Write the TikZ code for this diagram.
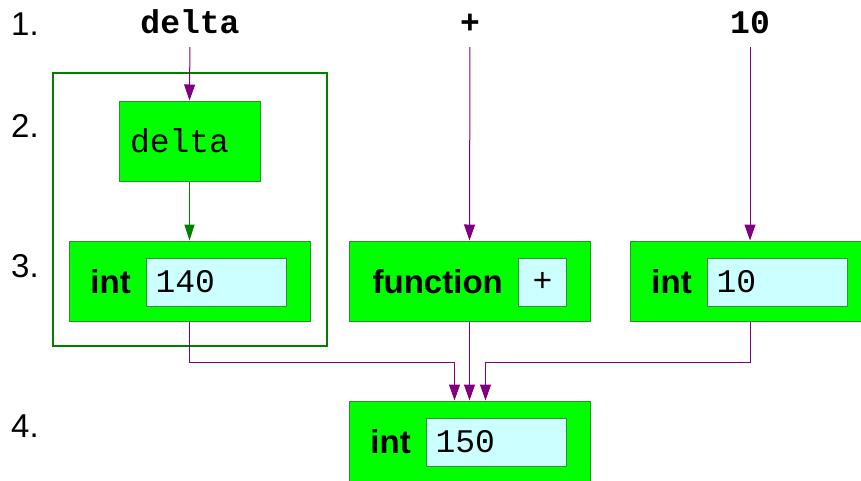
\documentclass[tikz,border=0pt]{standalone}
\usepackage{fontspec}
\setmainfont{Liberation Sans}
\setsansfont{Liberation Sans}
\setmonofont{Liberation Mono}
\usetikzlibrary{positioning, arrows.meta}
\definecolor{lime}{HTML}{00FF00}
\definecolor{frame}{HTML}{008000}
\definecolor{edge}{HTML}{1F9A1F}
\definecolor{slotfill}{HTML}{CCFFFF}
\definecolor{wire}{HTML}{800080}
\newcommand{\bigtype}{\fontsize{33}{40}\selectfont}

\begin{document}
\begin{tikzpicture}[x=1pt, y=-1pt,
      valbox/.style={draw=edge, fill=lime, line width=1pt,
                     minimum width=241pt, minimum height=80pt, inner sep=0pt},
      slotbox/.style={draw=edge!80!gray, fill=slotfill, line width=1pt, minimum height=48pt,
                      inner xsep=9pt, inner ysep=0pt, text width=122pt, align=left,
                      font=\bigtype\ttfamily},
      typename/.style={inner sep=0pt, font=\bigtype\sffamily\bfseries},
      source/.style={inner sep=0pt, anchor=base, text depth=0pt, font=\bigtype\ttfamily\bfseries},
      steplabel/.style={inner sep=0pt, anchor=base west, font=\bigtype\sffamily},
      flow/.style={-{Triangle[length=16pt, width=11pt]}, wire, line width=1pt},
      bind/.style={-{Triangle[length=16pt, width=10pt]}, frame, line width=1.2pt}]
    \useasboundingbox (0,0) rectangle (861,480);
    % environment frame
    \node[draw=frame, line width=2pt, minimum width=274pt, minimum height=273pt,
          inner sep=0pt] (envframe) at (190,209.5) {};
    % step numbers
    \node[steplabel] (s1) at (11,35)  {1.};
    \node[steplabel] (s2) at (11,137) {2.};
    \node[steplabel] (s3) at (11,277) {3.};
    \node[steplabel] (s4) at (11,437) {4.};
    % source tokens
    \node[source] (srcname) at (190,33) {delta};
    \node[source] (srcop)   at (470,33) {+};
    \node[source] (srcnum)  at (750,33) {10};
    % name lookup
    \node[draw=edge, fill=lime, line width=1pt, minimum width=141pt, minimum height=80pt,
          inner xsep=11pt, inner ysep=0pt, text width=119pt, align=left,
          font=\bigtype\ttfamily] (namebox) at (189.5,141) {delta};
    % values
    \node[valbox] (val140) at (189.5,281) {};
    \node[slotbox, anchor=west] (slot140) at (146,282) {140};
    \node[typename, left=15pt of slot140] (type140) {int};
    \node[valbox] (valfun) at (469.5,281) {};
    \node[slotbox, anchor=west, text width=30pt, align=center] (slotfun) at (518,282) {+};
    \node[typename, left=15pt of slotfun] (typefun) {function};
    \node[valbox] (val10) at (750.5,281) {};
    \node[slotbox, anchor=west] (slot10) at (707,282) {10};
    \node[typename, left=15pt of slot10] (type10) {int};
    \node[valbox, minimum height=82pt] (val150) at (469.5,442) {};
    \node[slotbox, anchor=west] (slot150) at (426,442) {150};
    \node[typename, left=15pt of slot150] (type150) {int};
    % connectors
    \draw[flow, shorten <=14pt] (srcname.south) -- (namebox.north);
    \draw[flow, shorten <=14pt] (srcop.south) -- (valfun.north);
    \draw[flow, shorten <=14pt] (srcnum.south) -- (val10.north -| srcnum.south);
    \draw[bind] (namebox.south) -- (val140.north);
    \draw[flow] (val140.south) -- ++(0,41) -| ([xshift=-15pt]val150.north);
    \draw[flow] (valfun.south) -- (val150.north);
    \draw[flow] (val10.south -| srcnum.south) -- ++(0,41) -| ([xshift=16pt]val150.north);
\end{tikzpicture}
\end{document}
